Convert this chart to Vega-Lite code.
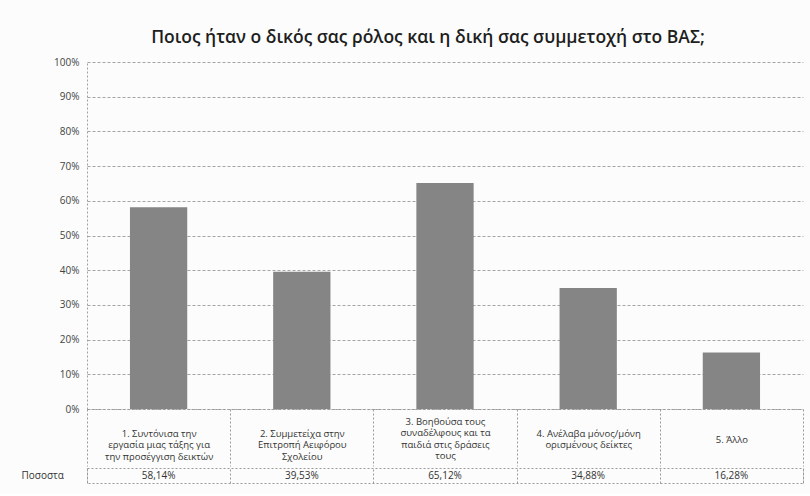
{
  "$schema": "https://vega.github.io/schema/vega-lite/v6.json",
  "padding": {"left": 20, "top": 28, "right": 8, "bottom": 10},
  "background": "#fbfcfb",
  "title": {
    "text": "Ποιος ήταν ο δικός σας ρόλος και η δική σας συμμετοχή στο ΒΑΣ;",
    "font": "Open Sans",
    "fontSize": 17.5,
    "fontWeight": 600,
    "color": "#1e1e1e",
    "anchor": "middle",
    "offset": 11,
    "dx": 16
  },
  "config": {
    "locale": {
      "number": {"decimal": ",", "thousands": ".", "grouping": [3], "currency": ["", " €"]}
    },
    "font": "Open Sans",
    "concat": {"spacing": 0}
  },
  "datasets": {
    "roles": [
      {"role": "1. Συντόνισα την|εργασία μιας τάξης για|την προσέγγιση δεικτών", "share": 0.5814, "row": "Ποσοστα"},
      {"role": "2. Συμμετείχα στην|Επιτροπή Αειφόρου|Σχολείου", "share": 0.3953, "row": "Ποσοστα"},
      {"role": "3. Βοηθούσα τους|συναδέλφους και τα|παιδιά στις δράσεις|τους", "share": 0.6512, "row": "Ποσοστα"},
      {"role": "4. Ανέλαβα μόνος/μόνη|ορισμένους δείκτες", "share": 0.3488, "row": "Ποσοστα"},
      {"role": "5. Άλλο", "share": 0.1628, "row": "Ποσοστα"}
    ]
  },
  "vconcat": [
    {
      "width": 716,
      "height": 347,
      "view": {"stroke": null},
      "data": {"name": "roles"},
      "mark": {"type": "bar", "color": "#858585", "width": {"band": 0.4}},
      "encoding": {
        "x": {
          "field": "role",
          "type": "nominal",
          "sort": null,
          "title": null,
          "scale": {"paddingInner": 0, "paddingOuter": 0},
          "axis": {
            "labelAngle": 0,
            "labelExpr": "split(datum.label, '|')",
            "labelFontSize": 9.5,
            "labelColor": "#333333",
            "labelLineHeight": 11.5,
            "labelBaseline": "middle",
            "labelPadding": {
              "condition": [
                {"test": "length(split(datum.value, '|')) == 4", "value": -45},
                {"test": "length(split(datum.value, '|')) == 1", "value": -27}
              ],
              "value": -33
            },
            "labelLimit": 0,
            "ticks": true,
            "tickBand": "extent",
            "tickSize": 57,
            "tickColor": "#9a9a9a",
            "tickDash": [2, 2],
            "domainColor": "#9a9a9a",
            "domainDash": [2, 2]
          }
        },
        "y": {
          "field": "share",
          "type": "quantitative",
          "title": null,
          "scale": {"domain": [0, 1]},
          "axis": {
            "values": [0, 0.1, 0.2, 0.3, 0.4, 0.5, 0.6, 0.7, 0.8, 0.9, 1],
            "format": ".0%",
            "labelFontSize": 10,
            "labelColor": "#444444",
            "labelPadding": 8,
            "ticks": false,
            "domain": true,
            "domainColor": "#a0a0a0",
            "domainDash": [2, 2],
            "gridColor": "#8f8f8f",
            "gridDash": [3, 2],
            "gridOpacity": 0.8,
            "minExtent": 66,
            "maxExtent": 66
          }
        }
      }
    },
    {
      "width": 716,
      "height": 15,
      "view": {"stroke": "#9a9a9a", "strokeDash": [2, 2]},
      "data": {"name": "roles"},
      "mark": {"type": "text", "fontSize": 10, "color": "#333333", "baseline": "middle"},
      "encoding": {
        "x": {
          "field": "role",
          "type": "nominal",
          "sort": null,
          "title": null,
          "scale": {"paddingInner": 0, "paddingOuter": 0},
          "axis": {
            "labels": false,
            "ticks": false,
            "domain": false,
            "grid": true,
            "tickBand": "extent",
            "gridColor": "#9a9a9a",
            "gridDash": [2, 2],
            "gridOpacity": 1
          }
        },
        "y": {
          "field": "row",
          "type": "nominal",
          "title": null,
          "axis": {
            "labelAlign": "left",
            "labelPadding": 66,
            "tickSize": 0,
            "ticks": false,
            "domain": false,
            "labelFontSize": 10,
            "labelColor": "#333333",
            "minExtent": 66,
            "maxExtent": 66
          }
        },
        "text": {"field": "share", "type": "quantitative", "format": ".2%"}
      }
    }
  ]
}
